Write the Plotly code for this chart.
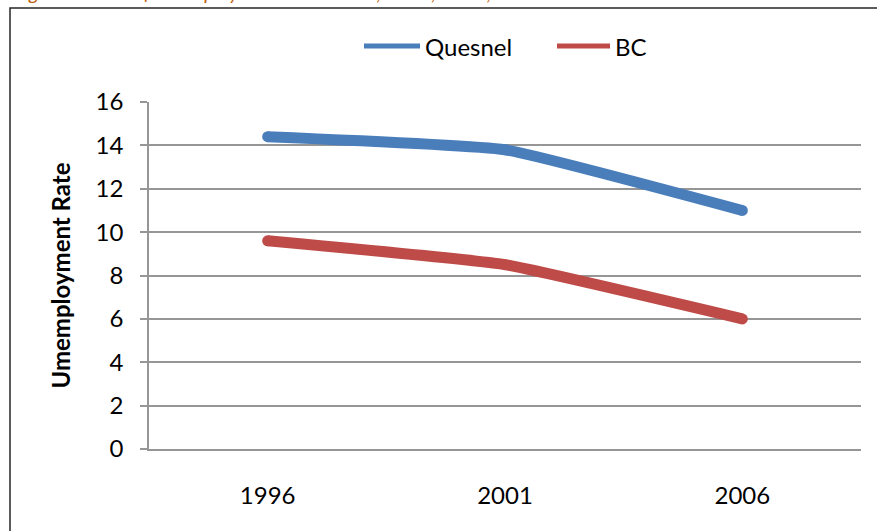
import plotly.graph_objects as go

# Census years and unemployment rates (%)
years = ["1996", "2001", "2006"]
quesnel = [14.4, 13.8, 11.0]
bc = [9.6, 8.5, 6.0]
series_names = ["Quesnel", "BC"]
series_colors = ["#4A7EBB", "#BE4B48"]

W, H = 877, 531
L, R, T, B = 149, 16, 102, 82
pw, ph = W - L - R, H - T - B


def px_x(x):
    return (x - L) / pw


def px_y(y):
    return (H - B - y) / ph


fig = go.Figure()
for name, vals, col in zip(series_names, [quesnel, bc], series_colors):
    fig.add_trace(go.Scatter(
        x=years, y=vals, name=name, mode="lines+markers",
        line=dict(color=col, width=11, shape="spline", smoothing=0.35),
        marker=dict(color=col, size=11, line=dict(width=0)),
        showlegend=False, hoverinfo="x+y",
    ))

font = "Lato, 'Open Sans', sans-serif"

# legend drawn as line swatches with labels
legend_items = [(364, 420, 423), (557, 610, 613)]
for (x0, x1, tx), name, col in zip(legend_items, series_names, series_colors):
    fig.add_shape(type="line", xref="paper", yref="paper",
                  x0=px_x(x0), x1=px_x(x1), y0=px_y(46), y1=px_y(46),
                  line=dict(color=col, width=5))
    fig.add_annotation(xref="paper", yref="paper", x=px_x(tx), y=px_y(46),
                       xanchor="left", yanchor="middle", text=name, showarrow=False,
                       font=dict(family=font, size=24, color="#000000"))

# chart frame
fig.add_shape(type="rect", xref="paper", yref="paper",
              x0=px_x(10), x1=px_x(W + 20), y0=px_y(8), y1=px_y(H + 20),
              line=dict(color="#262626", width=1.5), fillcolor="rgba(0,0,0,0)",
              layer="below")

# figure caption above the frame
fig.add_annotation(xref="paper", yref="paper", x=px_x(12), y=px_y(6),
                   xanchor="left", yanchor="bottom", showarrow=False,
                   text="<i>Figure 3: Rate of Unemployment in the Area, 1996, 2001, 2006</i>",
                   font=dict(family=font, size=20, color="#C0600C"))

grid = "#969696"
fig.update_layout(
    width=W, height=H,
    margin=dict(l=L, r=R, t=T, b=B),
    paper_bgcolor="white", plot_bgcolor="white",
    font=dict(family=font, size=24, color="#000000"),
    xaxis=dict(type="category", range=[-0.5, 2.5], showgrid=False,
               showline=True, linecolor=grid, linewidth=1.5,
               ticks="", ticklabelstandoff=24,
               tickfont=dict(size=24)),
    yaxis=dict(range=[0, 16], dtick=2, tick0=0,
               showgrid=True, gridcolor=grid, gridwidth=1.5,
               zeroline=False, showline=True, linecolor=grid, linewidth=1.5,
               ticks="outside", ticklen=7, tickcolor=grid, tickwidth=1.5,
               ticklabelstandoff=12, tickfont=dict(size=24),
               title=dict(text="<b>Umemployment Rate</b>", standoff=18,
                          font=dict(size=24))),
)

fig.write_html("out.html")
